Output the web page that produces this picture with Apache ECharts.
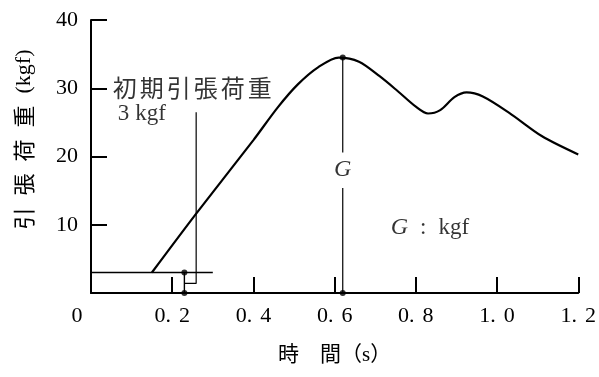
<!DOCTYPE html>
<html><head><meta charset="utf-8">
<script src="https://cdn.jsdelivr.net/npm/echarts@6/dist/echarts.min.js"></script>
<style>html,body{margin:0;padding:0;background:#fff}#c{width:599px;height:377px}</style>
</head><body><div id="c"></div>
<script>
// load curve (time s, load kgf)
const timeS   = [0.15, 0.26, 0.40, 0.46, 0.51, 0.56, 0.61, 0.66, 0.71, 0.755, 0.80, 0.83, 0.86, 0.895, 0.925, 0.965, 1.03, 1.11, 1.20];
const loadKgf = [3.0, 11.7, 22.4, 27.2, 30.6, 33.1, 34.5, 33.9, 31.8, 29.6, 27.3, 26.3, 26.8, 28.7, 29.4, 28.8, 26.4, 23.0, 20.3];
// initial tension load line (3 kgf)
const initLoadX = [0, 0.30];
const initLoadY = [3, 3];
// leader from annotation to initial load point
const leaderX = [0.259, 0.259, 0.23];
const leaderY = [26.5, 1.4, 1.4];
const initMarkX = [0.23, 0.23];
const initMarkY = [3, 0];
// G (peak) marker
const gX = 0.62;
const gPeak = 34.5;
const gGapTop = 20.6;
const gGapBottom = 15.4;
const dotX = [0.23, 0.23, 0.62, 0.62];
const dotY = [3, 0, 34.5, 0];
const xTicks = [0, 0.2, 0.4, 0.6, 0.8, 1.0, 1.2];
const yTicks = [10, 20, 30, 40];

const SERIF = 'Liberation Serif, Noto Sans CJK JP';
const CJK = 'Noto Sans CJK JP';
const INK = '#000';

function pairs(xs, ys){ return xs.map((x,i)=>[x, ys[i]]); }
function spaced(str, style){ return Array.from(str).map(ch => '{' + style + '|' + ch + '}').join(''); }

const chart = echarts.init(document.getElementById('c'), null, {renderer:'canvas'});
const noSym = {showSymbol:false, symbol:'none'};
chart.setOption({
  animation:false,
  backgroundColor:'#fff',
  grid:{left:91, right:17, top:20, bottom:84},
  xAxis:{
    type:'value', min:0, max:1.2, interval:0.2,
    name:'時　間（s）', nameLocation:'middle', nameGap:52,
    nameTextStyle:{fontFamily:SERIF, fontSize:21, color:INK},
    axisLine:{show:true, lineStyle:{color:INK, width:2}},
    axisTick:{show:true, inside:true, length:16, lineStyle:{color:INK, width:2}},
    splitLine:{show:false},
    axisLabel:{
      margin:12, color:INK, fontFamily:SERIF, fontSize:22,
      formatter:function(v){
        if (v === 0) return '{z|0}';
        const s = v.toFixed(1).split('.');
        return '{d|' + s[0] + '}{p|.}{d|' + s[1] + '}';
      },
      rich:{
        z:{fontFamily:SERIF, fontSize:22, color:INK, padding:[0,28,0,0]},
        d:{fontFamily:SERIF, fontSize:22, color:INK},
        p:{fontFamily:SERIF, fontSize:22, color:INK, padding:[0,8,0,0]}
      }
    }
  },
  yAxis:{
    type:'value', min:0, max:40, interval:10,
    name:spaced('引張荷重','c') + '{k|(kgf)}', nameLocation:'middle', nameGap:56, nameRotate:90,
    nameTextStyle:{fontFamily:SERIF, fontSize:22, color:INK, padding:[0,0,0,28],
      rich:{c:{fontFamily:CJK, fontSize:22, color:INK, width:34, align:'center'},
            k:{fontFamily:SERIF, fontSize:22, color:INK, padding:[0,0,0,6]}}},
    axisLine:{show:true, lineStyle:{color:INK, width:2}},
    axisTick:{show:true, inside:true, length:16, lineStyle:{color:INK, width:2}},
    splitLine:{show:false},
    axisLabel:{showMinLabel:false, margin:13, color:INK, fontFamily:SERIF, fontSize:22}
  },
  series:[
    Object.assign({type:'line', data:pairs(timeS, loadKgf), smooth:0.3, lineStyle:{color:INK, width:2.2}}, noSym),
    Object.assign({type:'line', data:pairs(initLoadX, initLoadY), lineStyle:{color:INK, width:1.6}}, noSym),
    Object.assign({type:'line', data:pairs(leaderX, leaderY), lineStyle:{color:INK, width:1.2}}, noSym),
    Object.assign({type:'line', data:pairs(initMarkX, initMarkY), lineStyle:{color:INK, width:1.4}}, noSym),
    Object.assign({type:'line', data:[[gX, gPeak],[gX, gGapTop]], lineStyle:{color:INK, width:1.2}}, noSym),
    Object.assign({type:'line', data:[[gX, gGapBottom],[gX, 0]], lineStyle:{color:INK, width:1.2}}, noSym),
    {type:'scatter', data:pairs(dotX, dotY), symbol:'circle', symbolSize:6, itemStyle:{color:INK}, silent:true, z:5},
    {type:'scatter', symbolSize:0, silent:true,
      data:[
        {value:[0.05, 30.0], label:{show:true, position:'right', distance:0, formatter:spaced('初期引張荷重','c'),
          rich:{c:{fontFamily:CJK, fontSize:24, color:INK, width:27, align:'center'}}}},
        {value:[0.066, 26.3], label:{show:true, position:'right', distance:0, formatter:'{n|3}{u|kgf}',
          rich:{n:{fontFamily:SERIF, fontSize:23, color:INK, padding:[0,6,0,0]}, u:{fontFamily:SERIF, fontSize:23, color:INK}}}},
        {value:[gX, 18.0], label:{show:true, position:'inside', formatter:'G', fontFamily:SERIF, fontStyle:'italic', fontSize:24, color:INK}},
        {value:[0.738, 9.5], label:{show:true, position:'right', distance:0, formatter:'{g|G}{t|:}{u|kgf}',
          rich:{g:{fontFamily:SERIF, fontStyle:'italic', fontSize:24, color:INK},
                t:{fontFamily:SERIF, fontSize:23, color:INK, padding:[0,12,0,12]},
                u:{fontFamily:SERIF, fontSize:23, color:INK}}}}
      ]}
  ]
});
</script></body></html>
